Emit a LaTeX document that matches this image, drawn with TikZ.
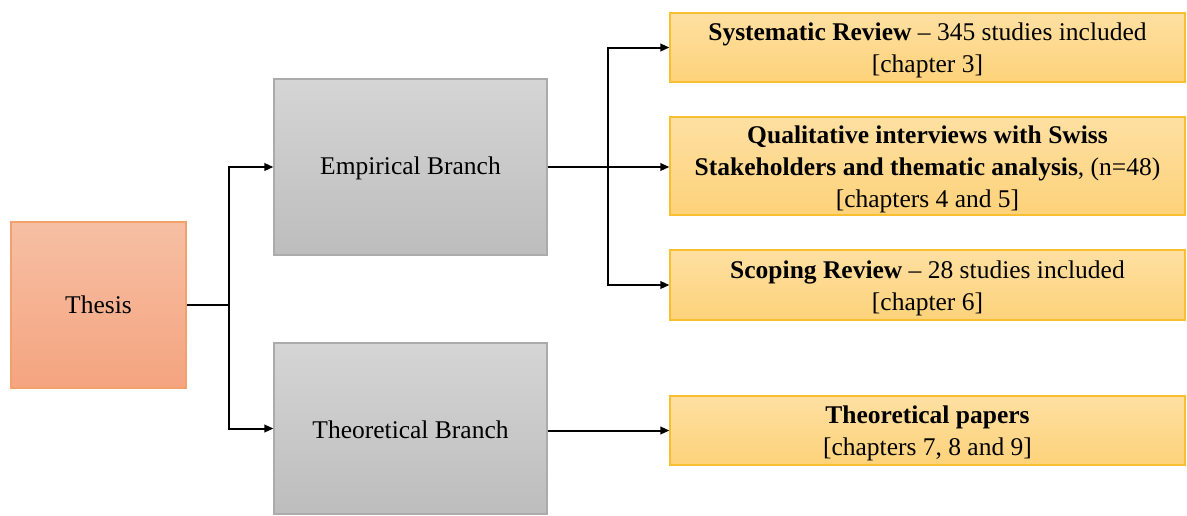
\documentclass[tikz,border=0pt]{standalone}
\usepackage{fontspec}
\setmainfont{Liberation Serif}
\usetikzlibrary{arrows.meta,shadings}
\definecolor{thesisTop}{HTML}{F6BFA3}
\definecolor{thesisBot}{HTML}{F5A47F}
\definecolor{thesisLine}{HTML}{F2A06E}
\definecolor{greyTop}{HTML}{D5D5D5}
\definecolor{greyBot}{HTML}{BDBDBD}
\definecolor{greyLine}{HTML}{ABABAB}
\definecolor{goldTop}{HTML}{FEE0A2}
\definecolor{goldBot}{HTML}{FDD27A}
\definecolor{goldLine}{HTML}{F8C031}
% extra room above the first line pushes a text block slightly down
\newcommand\toppad{\rule{0pt}{24pt}}
\tikzset{
  every node/.style={font=\fontsize{25.5}{32}\selectfont, inner sep=0pt, align=center},
  thesisbox/.style={draw=thesisLine, line width=1.2pt, top color=thesisTop, bottom color=thesisBot},
  branchbox/.style={draw=greyLine, line width=1.2pt, top color=greyTop, bottom color=greyBot, minimum width=273pt},
  studybox/.style={draw=goldLine, line width=1.2pt, top color=goldTop, bottom color=goldBot, minimum width=515pt},
  link/.style={line width=2pt, black},
  arrowlink/.style={link, -{Triangle[length=9pt,width=7.5pt]}}
}
\begin{document}
\begin{tikzpicture}[x=1pt,y=-1pt]
\useasboundingbox (0,0) rectangle (1187,515);
% main boxes
\node[thesisbox, minimum width=175pt, minimum height=166pt] (thesis) at (98.5,305) {Thesis};
\node[branchbox, minimum height=176pt] (emp) at (410.5,167) {\rule{0pt}{20pt}Empirical Branch};
\node[branchbox, minimum height=171pt] (theo) at (410.5,428.5) {\rule{0pt}{20pt}Theoretical Branch};
% study boxes
\node[studybox, minimum height=69pt] (sys) at (927.5,47.5)
  {\toppad\textbf{Systematic Review} -- 345 studies included\\{}[chapter 3]};
\node[studybox, minimum height=98pt] (qual) at (927.5,166)
  {\toppad\textbf{Qualitative interviews with Swiss}\\\textbf{Stakeholders and thematic analysis}, (n=48)\\{}[chapters 4 and 5]};
\node[studybox, minimum height=70pt] (scop) at (927.5,285)
  {\toppad\textbf{Scoping Review} -- 28 studies included\\{}[chapter 6]};
\node[studybox, minimum height=69pt] (paps) at (927.5,430.5)
  {\toppad\textbf{Theoretical papers}\\{}[chapters 7, 8 and 9]};
% junctions
\coordinate (j1) at (229,305);
\coordinate (j2) at (608,167);
% connectors
\draw[link, line width=2.8pt] (thesis.east) -- (j1);
\draw[arrowlink] (j1) |- (emp.west);
\draw[arrowlink] (j1) |- (theo.west);
\draw[link] (emp.east) -- (j2);
\draw[arrowlink] (j2) -- (j2 -| qual.west);
\draw[arrowlink] (j2) |- (sys.west);
\draw[arrowlink] (j2) |- (scop.west);
\draw[arrowlink] (theo.east |- paps.west) -- (paps.west);
\end{tikzpicture}
\end{document}
